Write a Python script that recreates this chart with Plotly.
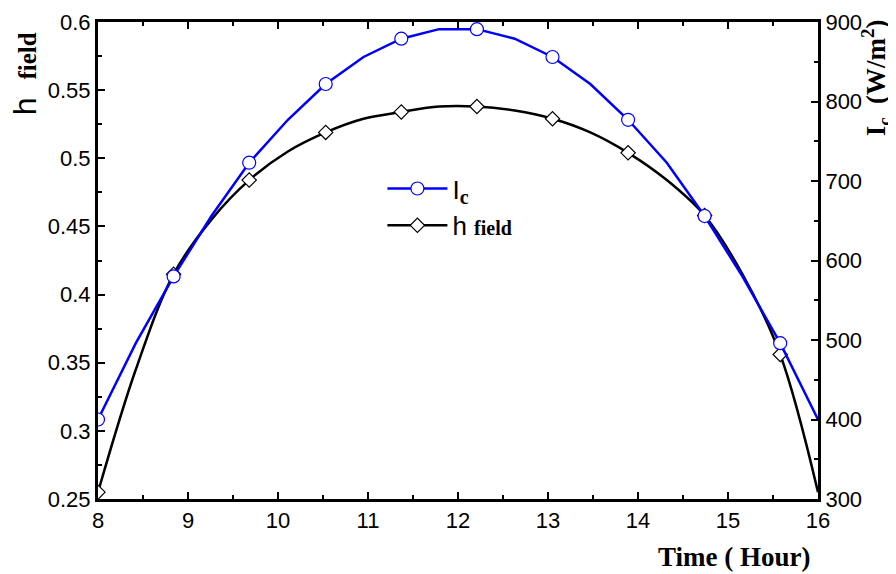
import plotly.graph_objects as go

# time grid (hours), 20 samples from 8 to 16
hours = [8.0, 8.42, 8.84, 9.26, 9.68, 10.11, 10.53, 10.95, 11.37, 11.79,
         12.21, 12.63, 13.05, 13.47, 13.89, 14.32, 14.74, 15.16, 15.58, 16.0]

# solar irradiance on collector, W/m2 (right axis)
irradiance = [400, 496, 580, 656, 723, 777, 822, 856, 879, 891,
              891, 879, 856, 822, 777, 723, 656, 580, 496, 400]

# field efficiency (left axis)
h_field = [0.255, 0.345, 0.415, 0.455, 0.484, 0.505, 0.519, 0.529, 0.534, 0.538,
           0.538, 0.535, 0.529, 0.519, 0.504, 0.484, 0.458, 0.415, 0.356, 0.255]

# markers drawn on every second sample
mark_idx = list(range(0, 20, 2))

SANS = "Liberation Sans, Arial"
SERIF = "Liberation Serif, Times New Roman"


def serif_bold(txt, size):
    return f"<span style='font-family:{SERIF};font-weight:bold;font-size:{size}px'>{txt}</span>"


fig = go.Figure()

# h_field: smooth black curve + open diamonds
fig.add_trace(go.Scatter(
    x=hours, y=h_field, mode="lines", line=dict(color="black", width=2.5, shape="spline"),
    showlegend=False, hoverinfo="skip"))
fig.add_trace(go.Scatter(
    x=[hours[i] for i in mark_idx], y=[h_field[i] for i in mark_idx], mode="markers",
    marker=dict(symbol="diamond", size=11, color="white", line=dict(color="black", width=1.2)),
    showlegend=False))

# irradiance: blue polyline + open circles, on right axis
fig.add_trace(go.Scatter(
    x=hours, y=irradiance, yaxis="y2", mode="lines", line=dict(color="#0000ff", width=2.5),
    showlegend=False, hoverinfo="skip"))
fig.add_trace(go.Scatter(
    x=[hours[i] for i in mark_idx], y=[irradiance[i] for i in mark_idx], yaxis="y2", mode="markers",
    marker=dict(symbol="circle", size=13, color="white", line=dict(color="#0000ff", width=1.2)),
    showlegend=False))

# legend entries
fig.add_trace(go.Scatter(
    x=[None], y=[None], yaxis="y2", mode="lines+markers",
    name="I<sub>" + serif_bold("c", 20) + "</sub>",
    line=dict(color="#0000ff", width=2.5),
    marker=dict(symbol="circle", size=13, color="white", line=dict(color="#0000ff", width=1.2))))
fig.add_trace(go.Scatter(
    x=[None], y=[None], mode="lines+markers",
    name="h " + serif_bold("field", 20),
    line=dict(color="black", width=2.5),
    marker=dict(symbol="diamond", size=11, color="white", line=dict(color="black", width=1.2))))

axis_common = dict(
    showline=True, linecolor="black", linewidth=3, ticks="inside", ticklen=7, tickwidth=1.5,
    tickcolor="black", showgrid=False, zeroline=False, automargin=False,
    tickfont=dict(family=SANS, size=22, color="black"),
)
minor_common = dict(ticks="inside", ticklen=4, tickwidth=1.5, tickcolor="black")

fig.update_layout(
    width=888, height=566,
    margin=dict(l=90, r=78, t=14, b=75),
    plot_bgcolor="white", paper_bgcolor="white",
    xaxis=dict(range=[8, 16], dtick=1, mirror="ticks", minor=dict(dtick=0.5, **minor_common),
               **axis_common),
    yaxis=dict(range=[0.25, 0.6], dtick=0.05, tickformat="~g", minor=dict(dtick=0.025, **minor_common),
               **axis_common),
    yaxis2=dict(range=[300, 900], dtick=100, overlaying="y", side="right",
                minor=dict(dtick=50, **minor_common), **axis_common),
    legend=dict(x=0.395, y=0.7, xanchor="left", yanchor="top", bgcolor="rgba(0,0,0,0)",
                font=dict(family=SANS, size=26, color="black"), itemwidth=60),
    annotations=[
        dict(text="<b>Time ( Hour)</b>", xref="paper", yref="paper", x=0.992, y=-0.1216,
             xanchor="right", yanchor="middle", showarrow=False,
             font=dict(family=SERIF, size=27, color="black")),
        dict(text="h  " + serif_bold("field", 25), xref="paper", yref="paper", x=-0.102, y=0.983,
             xanchor="center", yanchor="top", textangle=-90, showarrow=False,
             font=dict(family=SANS, size=32, color="black")),
        dict(text="<b>I<sub>c</sub>  (W/m<sup>2</sup>)</b>", xref="paper", yref="paper", x=1.08, y=1.01,
             xanchor="center", yanchor="top", textangle=-90, showarrow=False,
             font=dict(family=SERIF, size=27, color="black")),
    ],
)

fig.write_html("out.html")
